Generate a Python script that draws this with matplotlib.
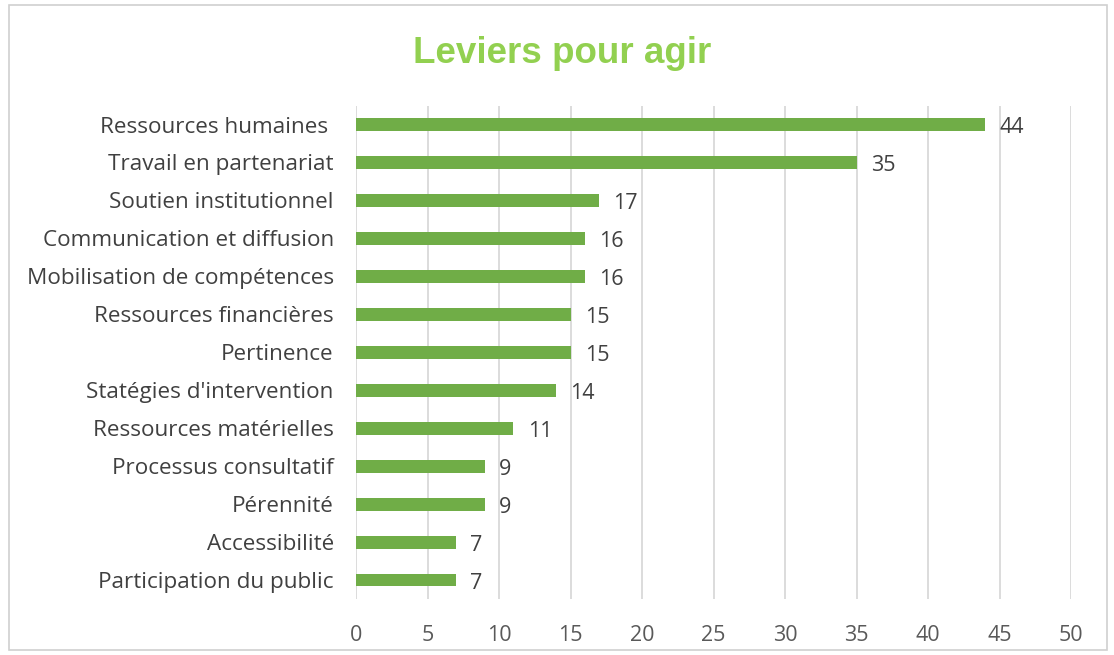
import matplotlib.pyplot as plt
from matplotlib.patches import Rectangle

categories = ["Ressources humaines ", "Travail en partenariat", "Soutien institutionnel",
              "Communication et diffusion", "Mobilisation de compétences",
              "Ressources financières", "Pertinence", "Statégies d'intervention",
              "Ressources matérielles", "Processus consultatif", "Pérennité",
              "Accessibilité", "Participation du public"]
values = [44, 35, 17, 16, 16, 15, 15, 14, 11, 9, 9, 7, 7]
xticks = [0, 5, 10, 15, 20, 25, 30, 35, 40, 45, 50]

plt.rcParams['font.family'] = ['Open Sans', 'DejaVu Sans']

fig = plt.figure(figsize=(11.14, 6.55), dpi=100)
ax = fig.add_axes([0.3196, 0.0855, 0.6418, 0.7534])

y = list(range(len(categories)))
ax.barh(y, values, height=0.34, color="#70AD47", zorder=3)
for yi, v in zip(y, values):
    ax.text(v + 1.0, yi + 0.08, str(v), va="center", ha="left", fontsize=15.5, color="#404040")

ax.set_yticks(y)
ax.set_yticklabels(categories, fontsize=16.2, color="#404040")
ax.set_ylim(len(categories) - 0.5, -0.5)
ax.set_xlim(0, 50)
ax.set_xticks(xticks)
ax.set_xticklabels([str(t) for t in xticks], fontsize=15.5, color="#595959")
ax.tick_params(axis="both", length=0)
ax.tick_params(axis="x", pad=19)
ax.tick_params(axis="y", pad=16)
ax.grid(axis="x", color="#D9D9D9", linewidth=1.3, zorder=0)
for s in ax.spines.values():
    s.set_visible(False)

fig.text(0.505, 0.918, "Leviers pour agir", ha="center", va="center",
         fontsize=26.5, fontweight="bold", color="#92D050", family="Liberation Sans")

fig.patches.append(Rectangle((0.008, 0.008), 0.986, 0.985, transform=fig.transFigure,
                             fill=False, edgecolor="#D0D0D0", linewidth=1.2))

fig.savefig("out.png", dpi=100)
